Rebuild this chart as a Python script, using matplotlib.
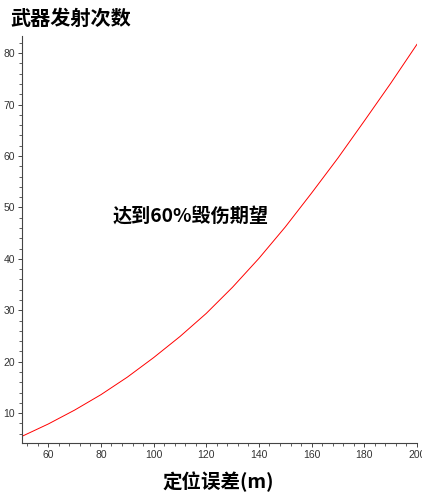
import numpy as np
import matplotlib
matplotlib.use("Agg")
import matplotlib.pyplot as plt
from matplotlib.ticker import MultipleLocator

plt.rcParams['font.family'] = ['Noto Sans CJK SC', 'DejaVu Sans']

# positioning error (m) and number of weapon launches
error_m = [50, 60, 70, 80, 90, 100, 110, 120, 130, 140, 150, 160, 170, 180, 190, 200]
shots = [5.5, 7.9, 10.6, 13.6, 17.0, 20.8, 24.9, 29.4, 34.5, 40.1, 46.2, 52.8, 59.6, 66.8, 74.1, 81.7]

title_text = "武器发射次数"
xlabel_text = "定位误差(m)"
note_text = "达到60%毁伤期望"

fig = plt.figure(figsize=(4.22, 4.95), dpi=100)
ax = fig.add_axes([0.052, 0.105, 0.936, 0.822])

ax.plot(error_m, shots, color="red", lw=0.7)

ax.set_xlim(50, 200)
ax.set_ylim(4.2, 83.3)
ax.xaxis.set_major_locator(MultipleLocator(20))
ax.xaxis.set_minor_locator(MultipleLocator(4))
ax.yaxis.set_major_locator(MultipleLocator(10))
ax.yaxis.set_minor_locator(MultipleLocator(2))
ax.set_xticks([60, 80, 100, 120, 140, 160, 180, 200])

for side in ["top", "right"]:
    ax.spines[side].set_visible(False)
for side in ["left", "bottom"]:
    ax.spines[side].set_color("#444444")
    ax.spines[side].set_linewidth(0.8)

ax.tick_params(which="major", length=3, width=0.7, color="#444444",
               labelsize=7.5, labelcolor="#333333", pad=2)
ax.tick_params(which="minor", length=2, width=0.6, color="#444444")
for lab in ax.get_xticklabels() + ax.get_yticklabels():
    lab.set_family("Liberation Sans")

fig.text(0.024, 0.962, title_text, fontsize=14.5, fontweight="bold", va="center", ha="left")
fig.text(0.517, 0.026, xlabel_text, fontsize=14, fontweight="bold", va="center", ha="center")
ax.text(0.23, 0.555, note_text, transform=ax.transAxes, fontsize=13.8,
        fontweight="bold", va="center", ha="left")

fig.savefig("out.png", dpi=100)
